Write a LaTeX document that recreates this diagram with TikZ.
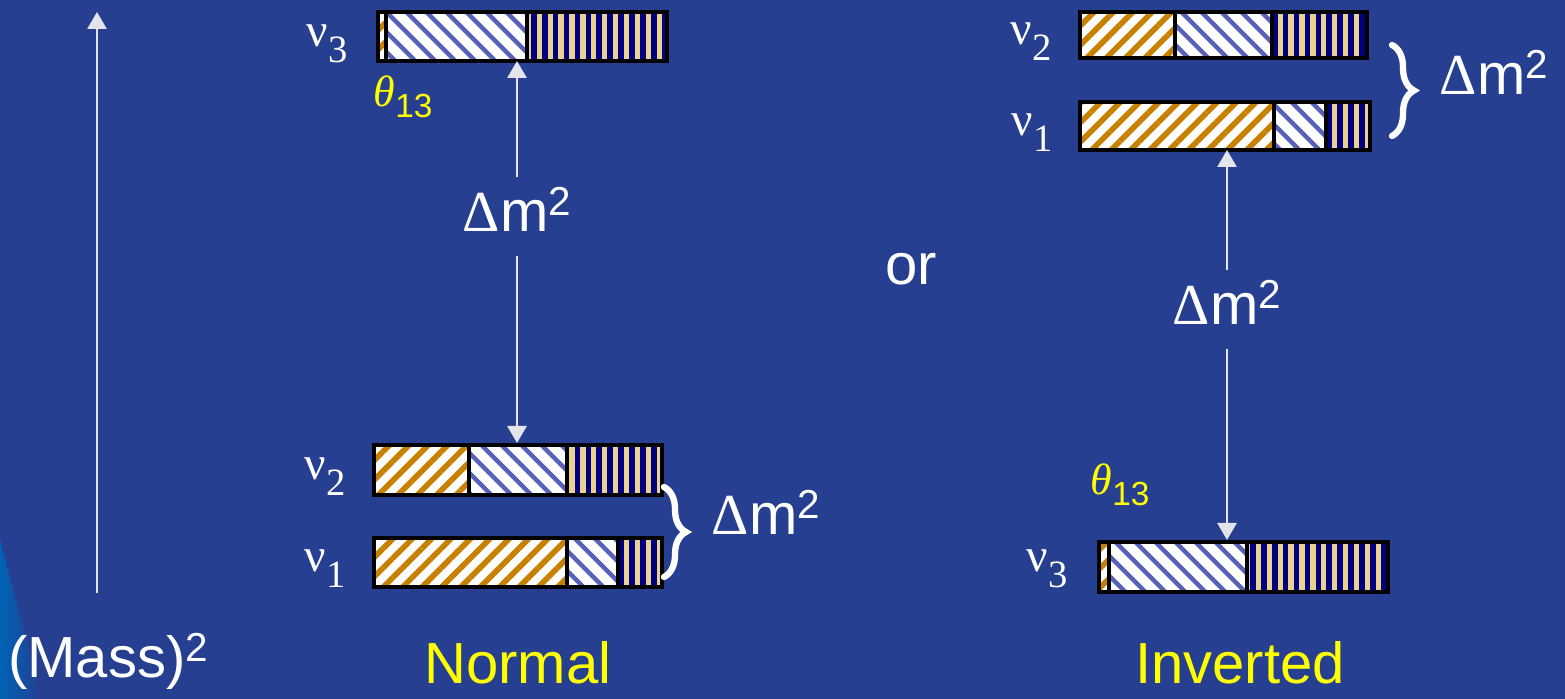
\documentclass[tikz,border=0pt]{standalone}
\usepackage{fontspec}
\setmainfont{Liberation Sans}
\newfontfamily\nufont{Liberation Serif}
\usetikzlibrary{arrows.meta,patterns.meta,decorations.pathreplacing}
\definecolor{SlideBlue}{RGB}{38,63,145}
\definecolor{EdgeBlue}{RGB}{0,98,180}
\definecolor{EOrange}{RGB}{200,128,0}
\definecolor{MuBlue}{RGB}{88,98,184}
\definecolor{TauNavy}{RGB}{0,0,128}
\definecolor{TauTan}{RGB}{236,210,145}
\definecolor{ArrGray}{RGB}{228,228,236}
\definecolor{LabYellow}{RGB}{255,255,0}
\tikzset{eseg/.style={preaction={fill=white},pattern={Lines[angle=45,distance=3.9pt,line width=1.6pt]},pattern color=EOrange,draw=black,line width=1pt},
museg/.style={preaction={fill=white},pattern={Lines[angle=-45,distance=4pt,line width=1.3pt]},pattern color=MuBlue,draw=black,line width=1pt},
tauseg/.style={preaction={fill=TauTan},pattern={Lines[angle=90,distance=3.1pt,line width=1.6pt]},pattern color=TauNavy,draw=black,line width=1pt},
gap/.style={draw=ArrGray,line width=0.75pt,-{Triangle[width=0.19cm,length=0.17cm]}},
big/.style={font=\fontsize{16.5}{18}\selectfont,text=white},
dm/.style={big,anchor=base,text height=0.42cm,text depth=0.11cm,inner sep=0.12cm},
brc/.style={draw=white,line width=1.8pt,line cap=round,decorate,decoration={brace,amplitude=0.22cm}}}
\newcommand{\nulab}[1]{{\nufont\fontsize{13.5}{13.5}\selectfont ν\raisebox{-4.3pt}{\fontsize{11}{11}\selectfont #1}}}
\newcommand{\supsq}{\raisebox{4.6pt}{\fontsize{11.5}{11.5}\selectfont 2}}
\newcommand{\dmsq}{{\nufont Δ}m\supsq}
\newcommand{\thlab}{{\nufont\itshape\fontsize{12.5}{12.5}\selectfont θ}\raisebox{-3pt}{\fontsize{9.5}{9.5}\selectfont 13}}

\begin{document}
\begin{tikzpicture}
\useasboundingbox (0,0) rectangle (15.65,6.99);
\fill[SlideBlue] (0,0) rectangle (15.65,6.99);
\shade[left color=EdgeBlue,right color=SlideBlue] (0,0) -- (0,1.6) .. controls (0.18,0.9) .. (0.42,0) -- cycle;

% mass axis
\coordinate (massLow) at (0.97,1.06);
\coordinate (massTop) at (0.97,6.87);
\draw[gap] (massLow) -- (massTop);
\node[big,anchor=base] (mass) at (1.08,0.21) {(Mass)\supsq};

% normal
\draw[eseg] (3.78,6.38) rectangle (3.86,6.87);
\draw[museg] (3.86,6.38) rectangle (5.27,6.87);
\draw[tauseg] (5.27,6.38) rectangle (6.67,6.87);
\draw[eseg] (3.74,2.04) rectangle (4.69,2.54);
\draw[museg] (4.69,2.04) rectangle (5.67,2.54);
\draw[tauseg] (5.67,2.04) rectangle (6.62,2.54);
\draw[eseg] (3.74,1.12) rectangle (5.67,1.61);
\draw[museg] (5.67,1.12) rectangle (6.18,1.61);
\draw[tauseg] (6.18,1.12) rectangle (6.62,1.61);
\node[text=white,anchor=base west,inner sep=0pt] (n3N) at (3.06,6.52) {\nulab{3}};
\node[text=white,anchor=base west,inner sep=0pt] (n2N) at (3.04,2.19) {\nulab{2}};
\node[text=white,anchor=base west,inner sep=0pt] (n1N) at (3.04,1.27) {\nulab{1}};
\node[text=LabYellow,anchor=base west,inner sep=0pt] (thN) at (3.73,5.92) {\thlab};
\coordinate (nu3N) at (5.17,6.38);
\coordinate (nu2N) at (5.17,2.56);
\node[dm] (dmN) at (5.17,4.67) {\dmsq};
\draw[gap] (dmN.north) -- (nu3N);
\draw[gap] (dmN.south) -- (nu2N);
\coordinate (brN1) at (6.64,2.12);
\coordinate (brN2) at (6.64,1.22);
\draw[brc] (brN1) -- (brN2);
\node[big,anchor=base] (dmNb) at (7.66,1.64) {\dmsq};
\node[big,anchor=base] (norm) at (5.18,0.15) {\textcolor{LabYellow}{Normal}};

\node[big,anchor=base] (or) at (9.11,4.14) {or};

% inverted
\draw[eseg] (10.80,6.41) rectangle (11.75,6.87);
\draw[museg] (11.75,6.41) rectangle (12.72,6.87);
\draw[tauseg] (12.72,6.41) rectangle (13.67,6.87);
\draw[eseg] (10.80,5.49) rectangle (12.74,5.97);
\draw[museg] (12.74,5.49) rectangle (13.26,5.97);
\draw[tauseg] (13.26,5.49) rectangle (13.70,5.97);
\draw[eseg] (10.99,1.07) rectangle (11.09,1.57);
\draw[museg] (11.09,1.07) rectangle (12.47,1.57);
\draw[tauseg] (12.47,1.07) rectangle (13.88,1.57);
\node[text=white,anchor=base west,inner sep=0pt] (n2I) at (10.10,6.54) {\nulab{2}};
\node[text=white,anchor=base west,inner sep=0pt] (n1I) at (10.11,5.63) {\nulab{1}};
\node[text=white,anchor=base west,inner sep=0pt] (n3I) at (10.26,1.27) {\nulab{3}};
\node[text=LabYellow,anchor=base west,inner sep=0pt] (thI) at (10.90,2.04) {\thlab};
\coordinate (nu1I) at (12.27,5.49);
\coordinate (nu3I) at (12.27,1.59);
\node[dm] (dmI) at (12.27,3.74) {\dmsq};
\draw[gap] (dmI.north) -- (nu1I);
\draw[gap] (dmI.south) -- (nu3I);
\coordinate (brI1) at (13.92,6.54);
\coordinate (brI2) at (13.92,5.63);
\draw[brc] (brI1) -- (brI2);
\node[big,anchor=base] (dmIb) at (14.94,6.04) {\dmsq};
\node[big,anchor=base] (inv) at (12.40,0.15) {\textcolor{LabYellow}{Inverted}};
\end{tikzpicture}
\end{document}
